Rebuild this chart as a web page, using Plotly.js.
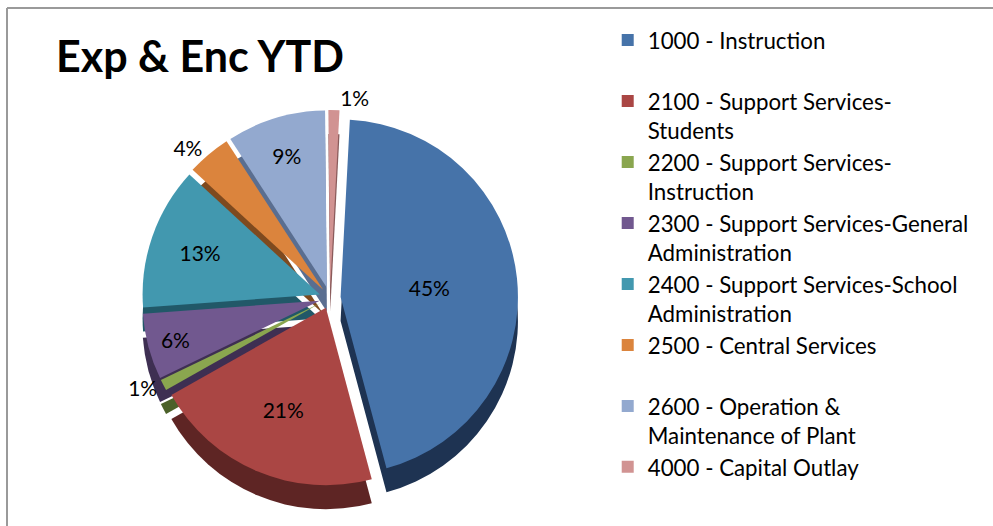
<!DOCTYPE html>
<html>
<head>
<meta charset="utf-8">
<script src="https://cdn.plot.ly/plotly-3.0.1.min.js"></script>
<style>
  html, body { margin: 0; padding: 0; background: #fff; }
  #chart { width: 993px; height: 526px; }
</style>
</head>
<body>
<div id="chart"></div>
<script>
const labels = [
  "1000 - Instruction<br> ",
  "2100 - Support Services-<br>Students",
  "2200 - Support Services-<br>Instruction",
  "2300 - Support Services-General<br>Administration",
  "2400 - Support Services-School<br>Administration",
  "2500 - Central Services<br> ",
  "2600 - Operation &<br>Maintenance of Plant",
  "4000 - Capital Outlay<br> "
];
const values = [45, 21, 1, 6, 13, 4, 9, 1];
const topColors = ["#4673A9", "#AA4644", "#8AA64F", "#71588F", "#4298AF", "#DB843D", "#93A9CF", "#D19392"];
const sideColors = ["#1E3352", "#5E2524", "#4B6129", "#3E2F52", "#215868", "#7E4A1F", "#5A6E90", "#8A5B5B"];
const textPos = ["inside", "inside", "outside", "inside", "inside", "outside", "inside", "outside"];

const W = 993, H = 526;
const cx = 330, cy = 298, R = 188, depth = 24;
function dom(yOff) {
  return {
    x: [(cx - R) / W, (cx + R) / W],
    y: [(H - (cy + yOff + R)) / H, (H - (cy + yOff - R)) / H]
  };
}
const pull = [0.06, 0.06, 0.06, 0.06, 0.06, 0.06, 0.06, 0.06];

const sideTrace = {
  type: "pie", labels: labels, values: values, sort: false,
  direction: "clockwise", rotation: 3, pull: pull,
  marker: { colors: sideColors, line: { width: 0 } },
  textinfo: "none", hoverinfo: "skip", showlegend: false,
  domain: dom(depth)
};
const topTrace = {
  type: "pie", labels: labels, values: values, sort: false,
  direction: "clockwise", rotation: 3, pull: pull,
  marker: { colors: topColors, line: { width: 0 } },
  textinfo: "percent", textposition: textPos,
  texttemplate: "%{value}%",
  insidetextorientation: "horizontal",
  textfont: { family: "Lato, sans-serif", size: 21, color: "#000" },
  outsidetextfont: { family: "Lato, sans-serif", size: 21, color: "#000" },
  domain: dom(0)
};

const layout = {
  width: W, height: H,
  margin: { l: 0, r: 0, t: 0, b: 0 },
  paper_bgcolor: "#fff",
  title: {
    text: "<b>Exp & Enc YTD</b>",
    x: 56 / W, xanchor: "left", xref: "paper",
    y: 1 - 57 / H, yanchor: "middle", yref: "paper",
    font: { family: "Lato, sans-serif", size: 43, color: "#000" }
  },
  legend: {
    x: 0.612, xanchor: "left", y: 1 - 19 / H, yanchor: "top",
    valign: "top", traceorder: "normal",
    font: { family: "Lato, sans-serif", size: 22.3, color: "#000" },
    bgcolor: "rgba(0,0,0,0)"
  },
  shapes: [
    { type: "line", xref: "paper", yref: "paper", x0: 7 / W, x1: 1, y0: 1 - 8 / H, y1: 1 - 8 / H, line: { color: "#9a9a9a", width: 2 } },
    { type: "line", xref: "paper", yref: "paper", x0: 7 / W, x1: 7 / W, y0: 0, y1: 1 - 8 / H, line: { color: "#9a9a9a", width: 2 } }
  ],
  showlegend: true
};

Plotly.newPlot("chart", [sideTrace, topTrace], layout, { displayModeBar: false, staticPlot: true });
</script>
</body>
</html>
